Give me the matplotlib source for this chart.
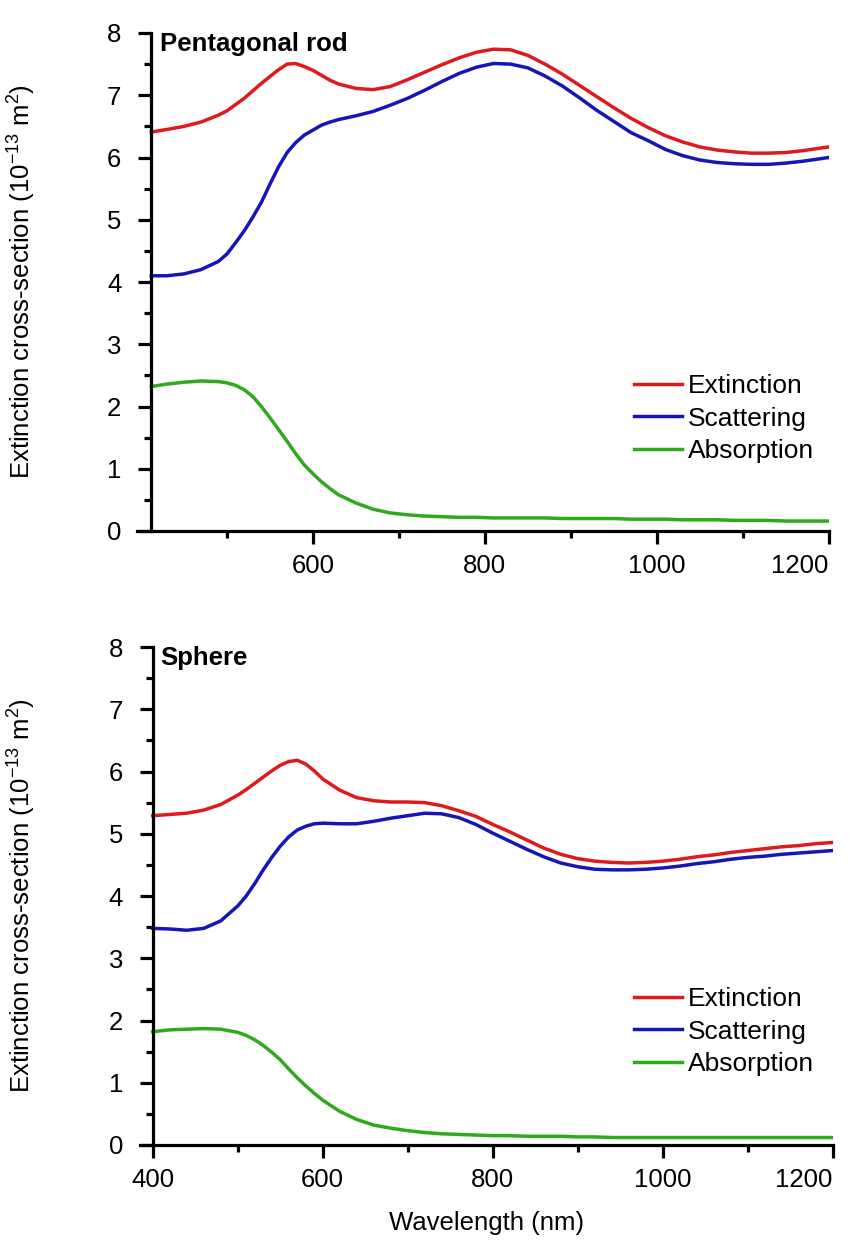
import matplotlib
matplotlib.use("Agg")
import matplotlib.pyplot as plt
from matplotlib.ticker import MultipleLocator, FixedLocator

plt.rcParams['font.family'] = ['Liberation Sans', 'DejaVu Sans']
plt.rcParams['mathtext.default'] = 'regular'

# ---- Pentagonal rod (top panel) ----
rod_wl = [412, 430, 450, 470, 490, 500, 510, 520, 530, 540, 550, 560, 570, 580, 590,
          600, 610, 620, 630, 650, 670, 690, 710, 730, 750, 770, 790, 810, 830, 850,
          870, 890, 910, 930, 950, 970, 990, 1010, 1030, 1050, 1070, 1090, 1110, 1130,
          1150, 1170, 1200]
rod_ext = [6.41, 6.45, 6.50, 6.57, 6.68, 6.75, 6.85, 6.95, 7.07, 7.19, 7.30, 7.41, 7.50, 7.51, 7.46,
           7.40, 7.32, 7.24, 7.18, 7.11, 7.09, 7.14, 7.25, 7.37, 7.49, 7.60, 7.69, 7.74, 7.73, 7.64,
           7.50, 7.34, 7.16, 6.98, 6.80, 6.63, 6.48, 6.35, 6.25, 6.17, 6.12, 6.09, 6.07, 6.07,
           6.08, 6.11, 6.17]
rod_sca = [4.10, 4.10, 4.13, 4.20, 4.33, 4.45, 4.63, 4.82, 5.04, 5.28, 5.57, 5.85, 6.08, 6.24, 6.36,
           6.44, 6.52, 6.57, 6.61, 6.67, 6.74, 6.84, 6.95, 7.08, 7.22, 7.35, 7.45, 7.51, 7.50, 7.44,
           7.31, 7.15, 6.96, 6.76, 6.58, 6.40, 6.27, 6.13, 6.03, 5.96, 5.92, 5.90, 5.89, 5.89,
           5.91, 5.94, 6.00]
rod_abs = [2.32, 2.36, 2.39, 2.41, 2.40, 2.38, 2.34, 2.27, 2.16, 2.00, 1.82, 1.63, 1.44, 1.24, 1.06,
           0.92, 0.79, 0.68, 0.58, 0.45, 0.35, 0.29, 0.26, 0.24, 0.23, 0.22, 0.22, 0.21, 0.21, 0.21,
           0.21, 0.20, 0.20, 0.20, 0.20, 0.19, 0.19, 0.19, 0.18, 0.18, 0.18, 0.17, 0.17, 0.17,
           0.16, 0.16, 0.16]

# ---- Sphere (bottom panel) ----
sph_wl = [400, 420, 440, 460, 480, 500, 510, 520, 530, 540, 550, 560, 570, 580, 590, 600,
          620, 640, 660, 680, 700, 720, 740, 760, 780, 800, 820, 840, 860, 880, 900, 920,
          940, 960, 980, 1000, 1020, 1040, 1060, 1080, 1100, 1120, 1140, 1160, 1180, 1200]
sph_ext = [5.29, 5.31, 5.33, 5.38, 5.47, 5.62, 5.71, 5.81, 5.91, 6.01, 6.10, 6.16, 6.18, 6.12, 6.01, 5.88,
           5.70, 5.58, 5.53, 5.51, 5.51, 5.50, 5.45, 5.37, 5.28, 5.15, 5.03, 4.90, 4.77, 4.67, 4.60, 4.56,
           4.54, 4.53, 4.54, 4.56, 4.59, 4.63, 4.66, 4.70, 4.73, 4.76, 4.79, 4.81, 4.84, 4.86]
sph_sca = [3.48, 3.47, 3.45, 3.48, 3.60, 3.84, 4.00, 4.20, 4.42, 4.62, 4.80, 4.95, 5.06, 5.12, 5.16, 5.17,
           5.16, 5.16, 5.20, 5.25, 5.29, 5.33, 5.32, 5.26, 5.15, 5.01, 4.88, 4.75, 4.63, 4.53, 4.47, 4.43,
           4.42, 4.42, 4.43, 4.45, 4.48, 4.52, 4.55, 4.59, 4.62, 4.64, 4.67, 4.69, 4.71, 4.73]
sph_abs = [1.82, 1.85, 1.86, 1.87, 1.86, 1.81, 1.76, 1.69, 1.60, 1.49, 1.37, 1.22, 1.08, 0.95, 0.83, 0.72,
           0.54, 0.41, 0.32, 0.27, 0.23, 0.20, 0.18, 0.17, 0.16, 0.15, 0.15, 0.14, 0.14, 0.14, 0.13, 0.13,
           0.12, 0.12, 0.12, 0.12, 0.12, 0.12, 0.12, 0.12, 0.12, 0.12, 0.12, 0.12, 0.12, 0.12]

labels = ['Extinction', 'Scattering', 'Absorption']
colors = ['#de1a1c', '#1616b8', '#2eaa1c']

W, H = 852, 1249
fig = plt.figure(figsize=(W / 100, H / 100), dpi=100)


def px_box(x0, y_top, x1, y_bot):
    return [x0 / W, 1 - y_bot / H, (x1 - x0) / W, (y_bot - y_top) / H]


def style(ax, xlim, spine_x, majors, title, title_xy, leg_xy, ylab_y):
    ax.set_xlim(*xlim)
    ax.set_ylim(0, 8)
    for s in ['top', 'right']:
        ax.spines[s].set_visible(False)
    for s in ['left', 'bottom']:
        ax.spines[s].set_linewidth(2.3)
    ax.spines['left'].set_position(('data', spine_x))
    ax.xaxis.set_major_locator(FixedLocator(majors))
    ax.xaxis.set_minor_locator(FixedLocator([500, 700, 900, 1100]))
    ax.yaxis.set_major_locator(MultipleLocator(1))
    ax.yaxis.set_minor_locator(MultipleLocator(0.5))
    ax.tick_params(which='major', direction='out', length=9.5, width=2.3, labelsize=18.5)
    ax.tick_params(which='minor', direction='out', length=5, width=2.3)
    ax.tick_params(axis='y', pad=12)
    ax.tick_params(axis='x', pad=7)
    fig.canvas.draw()
    ax.get_xticklabels()[-1].set_horizontalalignment('right')
    fig.text(22 / W, 1 - ylab_y / H, 'Extinction cross-section (10$^{-13}$ m$^{2}$)',
             fontsize=18.5, rotation=90, ha='center', va='center')
    fig.text(title_xy[0] / W, 1 - title_xy[1] / H, title, fontsize=18.5, fontweight='bold',
             va='baseline', ha='left')
    ax.legend(loc='upper left', bbox_to_anchor=(leg_xy[0] / W, 1 - leg_xy[1] / H),
              bbox_transform=fig.transFigure, frameon=False, fontsize=19,
              borderpad=0, borderaxespad=0, handlelength=1.8, handletextpad=0.25,
              labelspacing=0.33)


ax1 = fig.add_axes(px_box(136.7, 33, 828.7, 531))
for y, c, l in zip([rod_ext, rod_sca, rod_abs], colors, labels):
    ax1.plot(rod_wl, y, color=c, lw=2.5, label=l)
style(ax1, (395, 1200), 412, [600, 800, 1000, 1200], 'Pentagonal rod', (160, 51),
      (634, 374), 282)

ax2 = fig.add_axes(px_box(140, 647, 832.7, 1145))
for y, c, l in zip([sph_ext, sph_sca, sph_abs], colors, labels):
    ax2.plot(sph_wl, y, color=c, lw=2.5, label=l)
style(ax2, (385, 1200), 400, [400, 600, 800, 1000, 1200], 'Sphere', (160, 665),
      (634, 987), 896)
ax2.set_xlabel('Wavelength (nm)', fontsize=18.5, labelpad=14)

fig.savefig('out.png', dpi=100)
